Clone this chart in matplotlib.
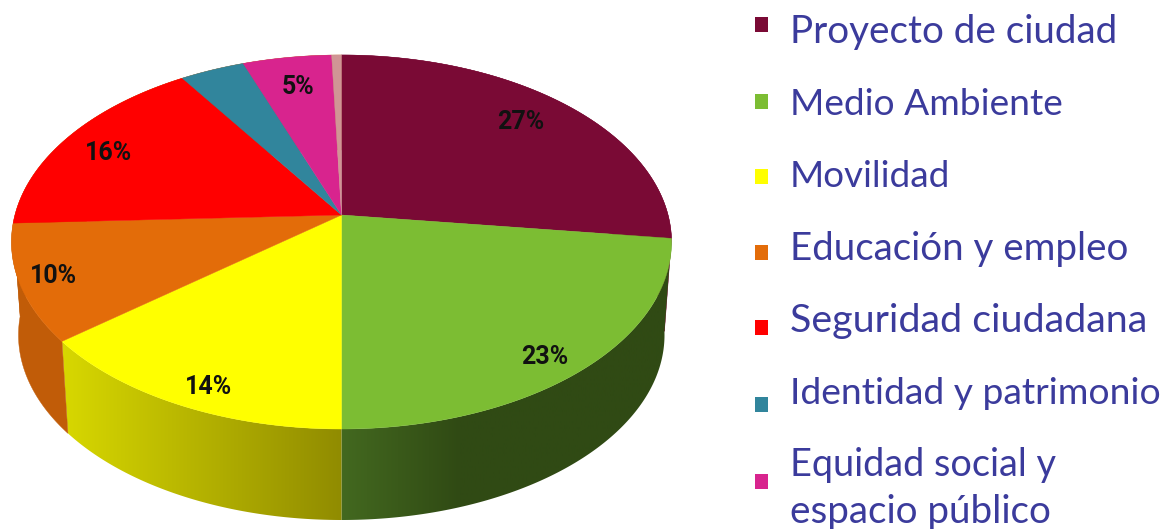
import numpy as np
import matplotlib
matplotlib.use("Agg")
import matplotlib.pyplot as plt
from matplotlib.colors import LinearSegmentedColormap
from matplotlib.patches import Polygon

categories = ["Proyecto de ciudad", "Medio Ambiente", "Movilidad", "Educación y empleo",
              "Seguridad ciudadana", "Identidad y patrimonio",
              "Equidad social y\nespacio público", "Otros"]
slice_shares = [27, 23, 14.2, 10.1, 16.5, 3.65, 5, 0.55]   # apparent wedge sizes
pct_labels = ["27%", "23%", "14%", "10%", "16%", "", "5%", ""]
colors = ["#7a0a35", "#7cbd33", "#ffff00", "#e36c09", "#ff0000", "#31859c", "#d8248e", "#d09595"]
side_colors = ["#7a0a35", "#304a14", "#8f8a00", "#c15c08", "#c15c08", "#c15c08", "#c15c08", "#c15c08"]

label_xy = [(521, 122), (545, 357), (209, 387), (54, 276), (109, 153), None, (298, 87), None]
legend_baselines = [43, 115, 187, 260, 332, 404, 476]
legend_sizes = [[27.8], [26.7], [26.6], [27.7], [28.4], [26.8], [27.3, 27.8]]
marker_centres = [24, 101, 176, 252, 327, 404, 481]

W, H = 1163, 529
CX, CY, RX, RY = 341.5, 242, 330, 187
BCX, BCY, BRX, BRY = 341.5, 335, 323, 185
C = 27 / RY


def project(t, cx, cy, rx, ry):
    u, v = np.sin(t), np.cos(t)
    d = 1 + C * v
    return cx + rx * np.sqrt(1 - C**2) * u / d, cy - ry * (v + C) / d


fig = plt.figure(figsize=(W / 100, H / 100), dpi=100, facecolor="white")
ax = fig.add_axes([0, 0, 1, 1])

edges = np.cumsum([0] + slice_shares) / sum(slice_shares) * 2 * np.pi

gradients = {
    1: (["#446a20", "#304a14", "#304a14"], (336, 680), 0.36),
    2: (["#d8d800", "#8f8a00"], (62, 348), None),
}

# side wall
for i in range(len(slice_shares)):
    ts = np.linspace(edges[i], edges[i + 1], 200)
    tx, ty = project(ts, CX, CY, RX, RY)
    bx, by = project(ts, BCX, BCY, BRX, BRY)
    verts = np.c_[np.r_[tx, bx[::-1]], np.r_[ty, by[::-1]]]
    if i in gradients:
        stops, (x0, x1), mid = gradients[i]
        if mid is not None:
            cmap = LinearSegmentedColormap.from_list("g", list(zip([0, mid, 1], stops)))
        else:
            cmap = LinearSegmentedColormap.from_list("g", stops)
        im = ax.imshow(np.linspace(0, 1, 256)[None, :], cmap=cmap, aspect="auto",
                       extent=(x0, x1, H, 0), zorder=1)
        im.set_clip_path(Polygon(verts, transform=ax.transData))
    else:
        ax.fill(verts[:, 0], verts[:, 1], facecolor=side_colors[i], edgecolor=side_colors[i],
                linewidth=0.3, zorder=1)

# top face
for i, c in enumerate(colors):
    ts = np.linspace(edges[i], edges[i + 1], 120)
    x, y = project(ts, CX, CY, RX, RY)
    ax.fill(np.r_[CX, x], np.r_[CY - 27, y], facecolor=c, edgecolor=c, linewidth=0.3, zorder=2)

for xy, s in zip(label_xy, pct_labels):
    if xy:
        ax.text(xy[0], xy[1], s, ha="center", va="center", fontsize=18, fontweight="bold",
                family="Roboto", color="#111111", zorder=3)

# legend
text_color = "#3b3b9c"
for name, base, mc, c, sizes in zip(categories, legend_baselines, marker_centres, colors, legend_sizes):
    ax.fill([755, 768, 768, 755], [mc - 7.5, mc - 7.5, mc + 7.5, mc + 7.5], facecolor=c, edgecolor="none")
    for j, (line, fs) in enumerate(zip(name.split("\n"), sizes)):
        ax.text(790, base + j * 47, line, ha="left", va="baseline", fontsize=fs, color=text_color,
                family="Lato", fontweight="regular")

ax.set_xlim(0, W)
ax.set_ylim(H, 0)
ax.axis("off")
fig.savefig("out.png", dpi=100, facecolor="white")
